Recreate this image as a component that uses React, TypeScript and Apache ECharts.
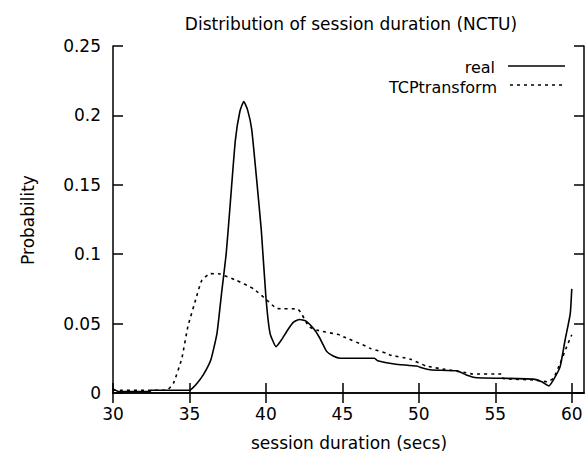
import React, { useEffect, useRef } from "react";
import * as echarts from "echarts";

const titleText = "Distribution of session duration (NCTU)";
const xAxisTitle = "session duration (secs)";
const yAxisTitle = "Probability";
const legendNames = ["real", "TCPtransform"];

const xTicks = [30, 35, 40, 45, 50, 55, 60];
const yTicks = [0, 0.05, 0.1, 0.15, 0.2, 0.25];

const realX = [30, 30.4, 32.4, 32.5, 35.0, 35.2, 35.5, 35.9, 36.4, 36.8, 37.1, 37.4, 37.65, 38.0, 38.3, 38.55, 38.8, 39.07, 39.4, 39.7, 40.0, 40.27, 40.66, 41.0, 41.4, 41.8, 42.2, 42.6, 43.1, 43.5, 43.97, 44.4, 44.85, 47.1, 47.3, 48.4, 49.85, 50.3, 50.85, 52.5, 53.1, 53.8, 55.4, 57.5, 58.04, 58.5, 58.8, 59.24, 59.56, 59.9, 60.0];
const realY = [0.003, 0.001, 0.001, 0.002, 0.002, 0.0035, 0.007, 0.013, 0.024, 0.043, 0.072, 0.1, 0.134, 0.182, 0.203, 0.21, 0.204, 0.19, 0.153, 0.117, 0.069, 0.043, 0.0334, 0.038, 0.045, 0.051, 0.053, 0.052, 0.0466, 0.04, 0.03, 0.0266, 0.025, 0.025, 0.0233, 0.0209, 0.0194, 0.0178, 0.0166, 0.016, 0.013, 0.011, 0.0106, 0.01, 0.0081, 0.005, 0.0094, 0.019, 0.038, 0.057, 0.075];

const tcpX = [30, 33.5, 33.95, 34.5, 34.9, 35.4, 35.8, 36.35, 37.0, 38.1, 39.2, 40.05, 40.7, 42.1, 42.8, 43.3, 44.85, 45.06, 46.6, 46.8, 47.9, 48.1, 49.4, 50.5, 51.7, 53.1, 53.5, 55.4, 55.5, 57.5, 58.4, 58.8, 59.24, 59.67, 60.0];
const tcpY = [0.002, 0.002, 0.007, 0.025, 0.048, 0.067, 0.081, 0.086, 0.0857, 0.081, 0.075, 0.067, 0.061, 0.0603, 0.048, 0.0454, 0.0418, 0.0406, 0.0334, 0.0322, 0.0286, 0.0274, 0.0245, 0.0194, 0.017, 0.0146, 0.0137, 0.0137, 0.0105, 0.0094, 0.0081, 0.0106, 0.0214, 0.0334, 0.042];

const FONT = '"DejaVu Sans", sans-serif';

export default function App() {
  const ref = useRef<HTMLDivElement>(null);
  useEffect(() => {
    if (!ref.current) return;
    const chart = echarts.init(ref.current, undefined, { renderer: "svg" });
    const axisLine = { show: true, lineStyle: { color: "#000", width: 1.5 } };
    const tick = { show: true, inside: true, length: 10, lineStyle: { color: "#000", width: 1.5 } };
    chart.setOption({
      animation: false,
      backgroundColor: "#fff",
      grid: { left: 113, right: 3, top: 46, bottom: 62, containLabel: false },
      xAxis: [
        {
          type: "value", min: 30, max: 60.8, position: "bottom",
          axisLine, splitLine: { show: false },
          axisTick: { ...tick, customValues: xTicks },
          axisLabel: { customValues: xTicks, color: "#000", fontFamily: FONT, fontSize: 17, margin: 12 },
        },
        {
          type: "value", min: 30, max: 60.8, position: "top",
          axisLine, splitLine: { show: false },
          axisTick: { ...tick, customValues: xTicks },
          axisLabel: { show: false },
        },
      ],
      yAxis: [
        {
          type: "value", min: 0, max: 0.25, interval: 0.05, position: "left",
          axisLine, splitLine: { show: false },
          axisTick: { ...tick, customValues: yTicks },
          axisLabel: { customValues: yTicks, color: "#000", fontFamily: FONT, fontSize: 17, margin: 12 },
        },
        {
          type: "value", min: 0, max: 0.25, interval: 0.05, position: "right",
          axisLine, splitLine: { show: false },
          axisTick: { ...tick, customValues: yTicks },
          axisLabel: { show: false },
        },
      ],
      series: [
        {
          name: legendNames[0], type: "line", showSymbol: false, smooth: 0.15,
          data: realX.map((x, i) => [x, realY[i]]),
          lineStyle: { color: "#000", width: 1.6 },
        },
        {
          name: legendNames[1], type: "line", showSymbol: false, smooth: 0.15,
          data: tcpX.map((x, i) => [x, tcpY[i]]),
          lineStyle: { color: "#000", width: 1.6, type: [3, 4] },
        },
      ],
      graphic: [
        { type: "text", x: 351, y: 24, style: { text: titleText, font: `17px ${FONT}`, fill: "#000", textAlign: "center", textVerticalAlign: "middle" } },
        { type: "text", x: 349, y: 443, style: { text: xAxisTitle, font: `17px ${FONT}`, fill: "#000", textAlign: "center", textVerticalAlign: "middle" } },
        { type: "text", x: 28, y: 220, rotation: Math.PI / 2, style: { text: yAxisTitle, font: `17px ${FONT}`, fill: "#000", textAlign: "center", textVerticalAlign: "middle" } },
        { type: "text", x: 495, y: 67, style: { text: legendNames[0], font: `16px ${FONT}`, fill: "#000", textAlign: "right", textVerticalAlign: "middle" } },
        { type: "line", shape: { x1: 508, y1: 66, x2: 565, y2: 66 }, style: { stroke: "#000", lineWidth: 1.6 } },
        { type: "text", x: 497, y: 87, style: { text: legendNames[1], font: `16px ${FONT}`, fill: "#000", textAlign: "right", textVerticalAlign: "middle" } },
        { type: "line", shape: { x1: 510, y1: 85, x2: 565, y2: 85 }, style: { stroke: "#000", lineWidth: 1.6, lineDash: [3, 4] } },
      ],
    });
    return () => chart.dispose();
  }, []);
  return <div ref={ref} style={{ position: "absolute", left: 0, top: 0, width: 587, height: 455 }} />;
}
